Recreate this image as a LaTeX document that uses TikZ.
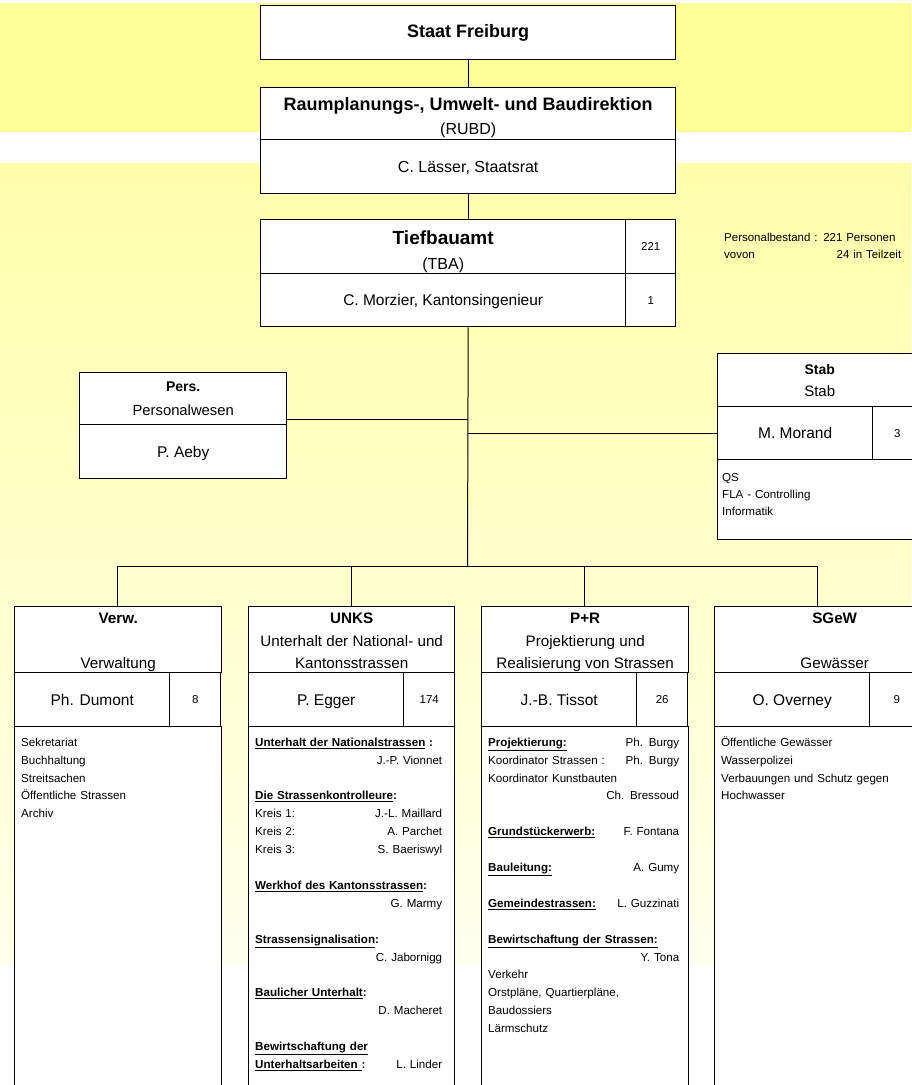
\documentclass[tikz,border=0pt]{standalone}
\usepackage{fontspec}
\setmainfont{Liberation Sans}
\usetikzlibrary{positioning}
\newcommand{\fs}[2]{\fontsize{#1}{#2}\selectfont}
\newcommand{\ubf}[1]{\underline{\textbf{#1}}}
\definecolor{gelb}{RGB}{255,255,153}
\definecolor{gelbA}{RGB}{255,255,170}
\definecolor{gelbB}{RGB}{255,255,236}

\begin{document}
\begin{tikzpicture}[x=1pt,y=-1pt,
		zelle/.style={draw=black,line width=1.4pt,fill=white,inner sep=0pt,anchor=north west,align=center},
		wh/.style 2 args={minimum width=#1pt,minimum height=#2pt},
		liste/.style={inner sep=0pt,anchor=north west,align=left,text width=#1pt,font=\fs{11.6}{17.9}},
		linie/.style={line width=1pt}]
		\def\st{\rule{0pt}{11pt}}
		\def\ka{\rule{0pt}{16.6pt}}
		\def\kb{\rule[-3.5pt]{0pt}{3.5pt}}
		\def\kc{\rule[-3.5pt]{0pt}{18pt}}
		\useasboundingbox (0,0) rectangle (911,1085);
		%Background
		\fill[gelb] (0,3) rectangle (911,132);
		\shade[top color=gelbA,bottom color=gelbB] (0,163) rectangle (911,963);
		%Top boxes
		\node[zelle,wh={415}{54},font=\bfseries\fs{18}{22}] (staat) at (260,5) {Staat Freiburg};
		\node[zelle,wh={415}{52},font=\fs{16}{24}] (rubdA) at (260,87) {{\bfseries\fs{18}{24}\rule{0pt}{20pt}Raumplanungs-, Umwelt- und Baudirektion}\\(RUBD)};
		\node[zelle,wh={415}{54},font=\fs{16}{20}] (rubdB) at (260,139) {\kc C. Lässer, Staatsrat};
		\node[zelle,wh={365}{54},font=\fs{16}{25}] (tbaA) at (260,219) {{\bfseries\fs{19}{25}\rule{0pt}{23pt}Tiefbauamt}\\(TBA)};
		\node[zelle,wh={50}{54},font=\fs{11.5}{14}] (tbaN) at (625,219) {221};
		\node[zelle,wh={365}{53},font=\fs{15.5}{20}] (tbaB) at (260,273) {\kc C. Morzier, Kantonsingenieur};
		\node[zelle,wh={50}{53},font=\fs{11.5}{14}] (tbaM) at (625,273) {1};
		\node[liste=177,font=\fs{11.5}{17}] (bestand) at (724,230) {\noindent\st Personalbestand : 221 Personen\\vovon\hfill 24 in Teilzeit};
		%Pers. and Stab
		\node[zelle,wh={207}{52},font=\fs{14.8}{23.5}] (persA) at (79,372) {{\bfseries\fs{14}{23.5}Pers.}\\Personalwesen};
		\node[zelle,wh={207}{54},font=\fs{15.5}{20}] (persB) at (79,424) {\kc P. Aeby};
		\node[zelle,wh={204}{53},font=\fs{15}{22}] (stabA) at (717,353) {{\bfseries\fs{14}{22}Stab}\\Stab};
		\node[zelle,wh={155}{53},font=\fs{15.5}{20}] (stabB) at (717,406) {\kc M. Morand};
		\node[zelle,wh={49}{53},font=\fs{11.5}{14}] (stabN) at (872,406) {3};
		\node[zelle,wh={204}{80}] (stabC) at (717,459) {};
		\node[liste=180,font=\fs{11.6}{17}] (stabL) at (722,470) {\noindent\st QS\\FLA - Controlling\\Informatik};
		%Sections
		\foreach \n/\x/\w/\z/\kopf/\chef/\zahl in {
			verw/14/207/51/{\ka\textbf{Verw.}\\[22.5pt]\kb Verwaltung}/{Ph. Dumont}/8,
			unks/248/206/51/{\ka\textbf{UNKS}\\Unterhalt der National- und\\\kb Kantonsstrassen}/{P. Egger}/174,
			pr/481/207/51/{\ka\textbf{P+R}\\Projektierung und\\\kb Realisierung von Strassen}/{J.-B. Tissot}/26,
			sgew/714/240/54/{\ka\textbf{SGeW}\\[22.5pt]\kb Gewässer}/{O. Overney}/9}
		{
			\node[zelle,wh={\w}{66},font=\fs{15.2}{22.5}] (\n-kopf) at (\x,606) {\kopf};
			\node[zelle,wh={155}{54},font=\fs{15.5}{20}] (\n-chef) at (\x,672) {\kc\chef};
			\node[zelle,wh={\z}{54},font=\fs{11.5}{14}] (\n-zahl) at ({\x+155},672) {\zahl};
			\node[zelle,wh={\w}{370}] (\n-rest) at (\x,726) {};
			\coordinate (\n-an) at ({\x+103.5},606);
		}
		%Lists
		\node[liste=190] (verw-liste) at (21,735) {\noindent\st Sekretariat\\Buchhaltung\\Streitsachen\\Öffentliche Strassen\\Archiv};
		\node[liste=187] (unks-liste) at (255,735) {\noindent\st\ubf{Unterhalt der Nationalstrassen}\textbf{ :}\\
			\hspace*{\fill}J.-P. Vionnet\\ \mbox{}\\
			\ubf{Die Strassenkontrolleure}\textbf{:}\\
			Kreis 1:\hfill J.-L. Maillard\\
			Kreis 2:\hfill A. Parchet\\
			Kreis 3:\hfill S. Baeriswyl\\ \mbox{}\\
			\ubf{Werkhof des Kantonsstrassen}\textbf{:}\\
			\hspace*{\fill}G. Marmy\\ \mbox{}\\
			\ubf{Strassensignalisation}\textbf{:}\\
			\hspace*{\fill}C. Jabornigg\\ \mbox{}\\
			\ubf{Baulicher Unterhalt}\textbf{:}\\
			\hspace*{\fill}D. Macheret\\ \mbox{}\\
			\ubf{Bewirtschaftung der}\\
			\ubf{Unterhaltsarbeiten }\textbf{:}\hfill L. Linder};
		\node[liste=191] (pr-liste) at (488,735) {\noindent\st\ubf{Projektierung:}\hfill Ph. Burgy\\
			Koordinator Strassen :\hfill Ph. Burgy\\
			Koordinator Kunstbauten\\
			\hspace*{\fill}Ch. Bressoud\\ \mbox{}\\
			\ubf{Grundstückerwerb:}\hfill F. Fontana\\ \mbox{}\\
			\ubf{Bauleitung:}\hfill A. Gumy\\ \mbox{}\\
			\ubf{Gemeindestrassen:}\hfill L. Guzzinati\\ \mbox{}\\
			\ubf{Bewirtschaftung der Strassen:}\\
			\hspace*{\fill}Y. Tona\\
			Verkehr\\
			Orstpläne, Quartierpläne,\\
			Baudossiers\\
			Lärmschutz};
		\node[liste=185] (sgew-liste) at (721,735) {\noindent\st Öffentliche Gewässer\\Wasserpolizei\\Verbauungen und Schutz gegen\\Hochwasser};
		%Lines
		\coordinate (bus) at (467.5,566);
		\coordinate (kp) at (467.5,419);
		\draw[linie] (staat.south) -- (rubdA.north);
		\draw[linie] (rubdB.south) -- (rubdB.south |- tbaA.north);
		\draw[linie] (rubdB.south |- tbaB.south) -- (bus);
		\draw[linie] (kp) -- (kp -| persA.east);
		\draw[linie] (stabB.west) -- (stabB.west -| bus);
		\draw[linie] (verw-an) -- (verw-an |- bus) -- (sgew-an |- bus) -- (sgew-an);
		\foreach \n in {unks,pr} \draw[linie] (\n-an) -- (\n-an |- bus);
\end{tikzpicture}
\end{document}
